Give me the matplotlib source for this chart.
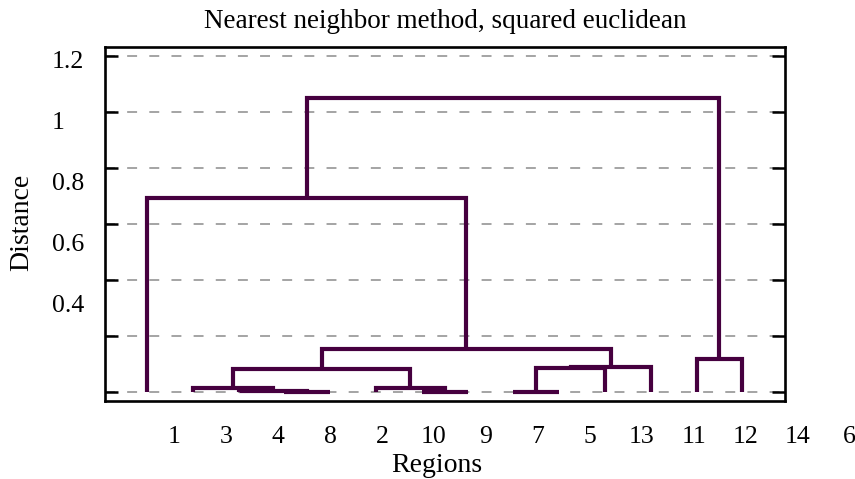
import matplotlib
matplotlib.use("Agg")
import matplotlib.pyplot as plt
import matplotlib.transforms as mtransforms

plt.rcParams["font.family"] = ["Liberation Serif", "DejaVu Serif"]

# leaf labels as printed under the axis
leaf_labels = ["1", "3", "4", "8", "2", "10", "9", "7", "5", "13", "11", "12", "14", "6"]

# linkage: leaves are 0..13 (in plotted order), merged nodes are 14, 15, ...
link_left = [3, 2, 1, 6, 5, 16, 8, 20, 21, 19, 0, 12, 24]
link_right = [4, 14, 15, 7, 17, 18, 9, 10, 11, 22, 23, 13, 25]
link_height = [0.000, 0.004, 0.016, 0.000, 0.013, 0.082, 0.000, 0.086, 0.088,
               0.154, 0.693, 0.118, 1.050]

y_ticks = [0, 0.2, 0.4, 0.6, 0.8, 1.0, 1.2]
y_labels = ["1.2", "1", "0.8", "0.6", "0.4"]

line_color = "#46003f"

fig = plt.figure(figsize=(8.55, 4.79), dpi=100)
ax = fig.add_axes([0.1228, 0.1628, 0.7953, 0.7391])

n_leaves = len(leaf_labels)
node_x = {i: i + 1 for i in range(n_leaves)}
node_h = {i: 0.0 for i in range(n_leaves)}

for k, (a, b, h) in enumerate(zip(link_left, link_right, link_height)):
    xa, xb = node_x[a], node_x[b]
    ha, hb = node_h[a], node_h[b]
    ax.plot([xa, xa, xb, xb], [ha, h, h, hb], color=line_color, lw=3.0,
            solid_joinstyle="miter", solid_capstyle="butt", zorder=3)
    node_x[n_leaves + k] = (xa + xb) / 2
    node_h[n_leaves + k] = h

ax.set_xlim(0.083, 14.93)
ax.set_ylim(-0.032, 1.232)

# grid + ticks
ax.set_yticks(y_ticks)
ax.set_yticklabels([])
ax.set_xticks([])
ax.yaxis.grid(True, color="#8c8c8c", lw=1.1, linestyle=(0, (6.5, 8.0)))
ax.tick_params(axis="y", direction="in", length=9.5, width=1.8,
               left=True, right=True)
for s in ax.spines.values():
    s.set_linewidth(1.9)
    s.set_color("black")

# labels as they appear in the reference (slightly stretched spacing)
trans_x = mtransforms.blended_transform_factory(ax.transData, ax.transAxes)
for i, lab in enumerate(leaf_labels):
    ax.text(1.135 * (i + 1) + 0.455, -0.101, lab, transform=trans_x,
            ha="center", va="center", fontsize=18.5, clip_on=False)

trans_y = mtransforms.blended_transform_factory(fig.transFigure, ax.transData)
for lab in y_labels:
    v = float(lab)
    ax.text(52 / 855, v * 1.09 - 0.129, lab, transform=trans_y,
            ha="left", va="center", fontsize=18.5, clip_on=False)

fig.text(22 / 855, 1 - 222 / 479, "Distance", rotation=90, ha="center",
         va="center", fontsize=20)
fig.text(437 / 855, 1 - 466 / 479, "Regions", ha="center", va="center",
         fontsize=20)
fig.text(445 / 855, 1 - 22 / 479, "Nearest neighbor method, squared euclidean",
         ha="center", va="center", fontsize=19.5)

fig.savefig("out.png", dpi=100)
